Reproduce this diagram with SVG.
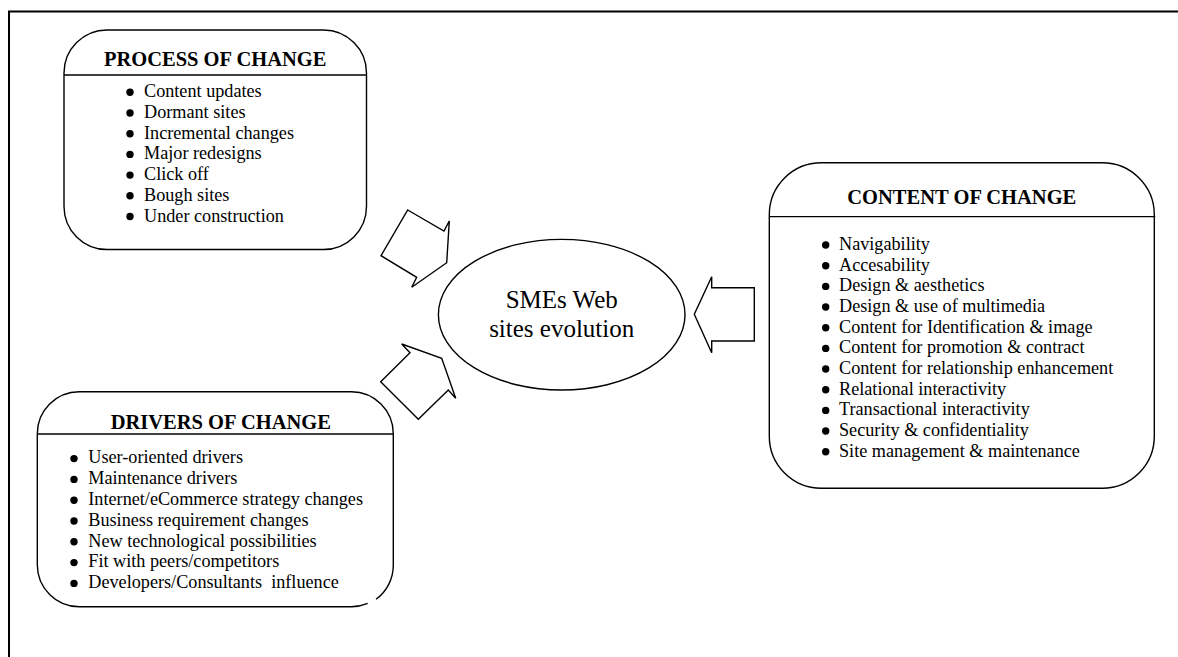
<svg xmlns="http://www.w3.org/2000/svg" width="1178" height="657" viewBox="0 0 1178 657">
<style>
.frame{fill:none;stroke:#000;stroke-width:2}
.box{fill:#fff;stroke:#000;stroke-width:1.4}
.div{stroke:#000;stroke-width:1.3}
.title{font-family:"Liberation Serif","Times New Roman",serif;font-weight:bold;font-size:20.5px;fill:#000;text-anchor:middle}
.item{font-family:"Liberation Serif","Times New Roman",serif;font-size:18.2px;fill:#000}
.mid{font-family:"Liberation Serif","Times New Roman",serif;font-size:25px;fill:#000;text-anchor:middle}
.arrow{fill:#fff;stroke:#000;stroke-width:1.4;stroke-linejoin:miter}
.bullet{fill:#000}
</style>
<rect width="1178" height="657" fill="#fff"/>
<g id="frame">
<path class="frame" d="M9,657 L9,11.5 L1178,11.5"/>
</g>
<g id="connectors">
<polygon class="arrow" points="407.7,210 444,231 449.3,221 446.7,262.7 411.7,287.3 416.7,277.3 381,255.7"/>
<polygon class="arrow" points="401.7,344 441.7,358.3 455.7,398.3 448.3,390 418.3,419.3 380.7,381.7 410,352.7"/>
<polygon class="arrow" points="711.7,276.7 711.7,287.7 754.3,287.7 754.3,341 711.7,341 711.7,352.7 694.3,314.3"/>
</g>
<g id="process">
<rect class="box" x="64" y="30" width="302.5" height="219.5" rx="43" ry="43"/>
<line class="div" x1="64" y1="75" x2="366.5" y2="75"/>
<text class="title" x="215.2" y="65.7">PROCESS OF CHANGE</text>
<g class="bullet">
<circle cx="130" cy="92.3" r="3.7"/><circle cx="130" cy="113" r="3.7"/><circle cx="130" cy="133.7" r="3.7"/><circle cx="130" cy="154.4" r="3.7"/><circle cx="130" cy="175.1" r="3.7"/><circle cx="130" cy="195.8" r="3.7"/><circle cx="130" cy="216.5" r="3.7"/>
</g>
<text class="item" x="144" y="97.3">Content updates<tspan x="144" dy="20.7">Dormant sites</tspan><tspan x="144" dy="20.7">Incremental changes</tspan><tspan x="144" dy="20.7">Major redesigns</tspan><tspan x="144" dy="20.7">Click off</tspan><tspan x="144" dy="20.7">Bough sites</tspan><tspan x="144" dy="20.7">Under construction</tspan></text>
</g>
<g id="drivers">
<path class="box" d="M376,599.3 A42,42 0 0 0 393.3,564.7 L393.3,433.7 A42,42 0 0 0 351.3,391.7 L79.3,391.7 A42,42 0 0 0 37.3,433.7 L37.3,564.7 A42,42 0 0 0 79.3,606.7 L351.3,606.7 A42,42 0 0 0 367.7,603.4"/>
<line class="div" x1="37.5" y1="434" x2="393.3" y2="434"/>
<text class="title" x="220.8" y="428.5">DRIVERS OF CHANGE</text>
<g class="bullet">
<circle cx="74" cy="458.6" r="3.7"/><circle cx="74" cy="479.4" r="3.7"/><circle cx="74" cy="500.2" r="3.7"/><circle cx="74" cy="521" r="3.7"/><circle cx="74" cy="541.8" r="3.7"/><circle cx="74" cy="562.6" r="3.7"/><circle cx="74" cy="583.4" r="3.7"/>
</g>
<text class="item" x="88.3" y="463.3">User-oriented drivers<tspan x="88.3" dy="20.8">Maintenance drivers</tspan><tspan x="88.3" dy="20.8">Internet/eCommerce strategy changes</tspan><tspan x="88.3" dy="20.8">Business requirement changes</tspan><tspan x="88.3" dy="20.8">New technological possibilities</tspan><tspan x="88.3" dy="20.8">Fit with peers/competitors</tspan><tspan x="88.3" dy="20.8" xml:space="preserve">Developers/Consultants  influence</tspan></text>
</g>
<g id="content">
<rect class="box" x="769.3" y="162.7" width="385" height="325.6" rx="52" ry="52"/>
<line class="div" x1="769.3" y1="216.7" x2="1155.3" y2="216.7"/>
<text class="title" x="961.8" y="204">CONTENT OF CHANGE</text>
<g class="bullet">
<circle cx="825.7" cy="245" r="3.7"/><circle cx="825.7" cy="265.7" r="3.7"/><circle cx="825.7" cy="286.4" r="3.7"/><circle cx="825.7" cy="307" r="3.7"/><circle cx="825.7" cy="327.7" r="3.7"/><circle cx="825.7" cy="348.4" r="3.7"/><circle cx="825.7" cy="369" r="3.7"/><circle cx="825.7" cy="389.7" r="3.7"/><circle cx="825.7" cy="410.4" r="3.7"/><circle cx="825.7" cy="431" r="3.7"/><circle cx="825.7" cy="451.7" r="3.7"/>
</g>
<text class="item" x="839" y="250">Navigability<tspan x="839" dy="20.67">Accesability</tspan><tspan x="839" dy="20.67">Design &amp; aesthetics</tspan><tspan x="839" dy="20.67">Design &amp; use of multimedia</tspan><tspan x="839" dy="20.67">Content for Identification &amp; image</tspan><tspan x="839" dy="20.67">Content for promotion &amp; contract</tspan><tspan x="839" dy="20.67">Content for relationship enhancement</tspan><tspan x="839" dy="20.67">Relational interactivity</tspan><tspan x="839" dy="20.67">Transactional interactivity</tspan><tspan x="839" dy="20.67">Security &amp; confidentiality</tspan><tspan x="839" dy="20.67">Site management &amp; maintenance</tspan></text>
</g>
<g id="sme">
<ellipse class="box" cx="561.7" cy="314.7" rx="123.3" ry="75.3"/>
<text class="mid" font-family="Liberation Serif, serif" x="561.7" y="308.3">SMEs Web</text>
<text class="mid" font-family="Liberation Serif, serif" x="561.7" y="336.7">sites evolution</text>
</g>
</svg>
